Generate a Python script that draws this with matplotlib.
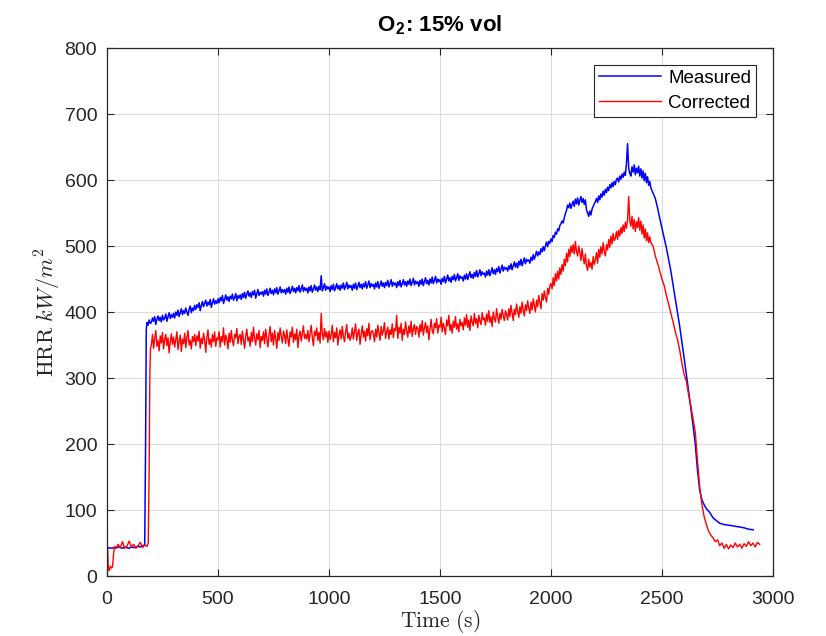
import numpy as np
import matplotlib
matplotlib.use("Agg")
import matplotlib.pyplot as plt

# ---- data (HRR in kW/m^2, time in s) ----
# pre-ignition part
meas_pre_t = [0, 10, 20, 30, 40, 50, 60, 70, 80, 90, 100, 110, 120, 130, 140, 150, 160, 170, 174, 177, 180, 185, 190, 195]
meas_pre_v = [42, 43, 42, 43, 42, 44, 43, 42, 44, 43, 42, 44, 43, 44, 45, 44, 46, 47, 200, 372, 384, 380, 388, 383]

corr_pre_t = [0, 1, 3, 6, 10, 15, 20, 25, 30, 35, 40, 50, 60, 70, 80, 90, 100, 110, 120, 130, 140,
              150, 160, 170, 180, 186, 190, 193, 196]
corr_pre_v = [0, 40, 42, 12, 8, 15, 12, 14, 35, 45, 42, 48, 43, 52, 42, 45, 53, 44, 48, 42, 46,
              51, 43, 47, 45, 50, 160, 300, 345]

# burning part, one value every 5 s starting at 200 s (one row = 100 s)
meas_main = [
    384, 391, 386, 393, 381, 389, 394, 387, 392, 385, 395, 388, 391, 397, 386, 393, 399, 390, 396, 392,
    398, 391, 400, 395, 403, 393, 399, 405, 396, 402, 398, 406, 400, 395, 404, 409, 399, 406, 402, 410,
    404, 411, 407, 414, 402, 410, 416, 408, 413, 418, 409, 415, 411, 419, 407, 414, 420, 412, 417, 413,
    420, 414, 422, 417, 425, 413, 419, 426, 418, 423, 416, 424, 420, 427, 418, 422, 428, 417, 425, 421,
    426, 419, 428, 422, 430, 421, 427, 432, 424, 429, 422, 431, 426, 433, 421, 428, 434, 425, 430, 427,
    431, 424, 433, 427, 435, 425, 430, 436, 428, 433, 426, 435, 429, 437, 427, 432, 438, 429, 434, 430,
    434, 427, 436, 430, 438, 428, 433, 439, 431, 436, 429, 437, 432, 440, 430, 435, 441, 431, 437, 433,
    436, 429, 438, 432, 440, 430, 435, 441, 433, 438, 431, 439, 434, 455, 432, 437, 443, 433, 439, 435,
    438, 431, 440, 434, 442, 432, 437, 443, 435, 440, 433, 441, 436, 444, 434, 439, 445, 435, 441, 437,
    440, 433, 442, 436, 444, 434, 439, 445, 437, 442, 435, 443, 438, 446, 436, 441, 447, 437, 443, 439,
    442, 435, 444, 438, 446, 436, 441, 447, 439, 444, 437, 445, 440, 448, 438, 443, 449, 439, 445, 441,
    444, 437, 446, 440, 448, 438, 443, 449, 441, 446, 439, 447, 442, 450, 440, 445, 451, 441, 447, 443,
    446, 439, 448, 442, 450, 440, 446, 452, 443, 448, 441, 450, 444, 453, 443, 448, 454, 444, 450, 446,
    449, 442, 451, 446, 454, 444, 450, 456, 447, 452, 445, 454, 449, 457, 447, 452, 458, 448, 455, 451,
    453, 447, 456, 450, 458, 449, 455, 461, 452, 457, 451, 460, 454, 463, 453, 458, 464, 455, 461, 457,
    459, 453, 462, 456, 464, 455, 461, 467, 458, 464, 457, 466, 461, 469, 459, 465, 471, 462, 468, 465,
    467, 462, 470, 465, 473, 464, 470, 476, 468, 474, 467, 477, 471, 480, 470, 476, 482, 473, 480, 477,
    479, 474, 483, 478, 487, 480, 486, 492, 485, 491, 487, 496, 491, 499, 493, 500, 506, 499, 507, 504,
    511, 507, 516, 513, 521, 518, 526, 523, 531, 534, 538, 535, 543, 549, 554, 562, 558, 565, 557, 563,
    568, 560, 571, 564, 573, 562, 569, 575, 566, 572, 563, 570, 555, 550, 545, 553, 547, 556, 560, 564,
    567, 572, 566, 576, 570, 579, 574, 583, 577, 586, 581, 589, 584, 593, 588, 596, 590, 598, 593, 601,
    603, 597, 606, 601, 609, 604, 612, 607, 625, 655, 618, 610, 606, 620, 612, 623, 608, 618, 611, 621,
    606, 617, 603, 614, 599, 610, 596, 605, 592, 598,
]
corr_main = [
    350, 366, 345, 360, 372, 348, 357, 341, 364, 353, 369, 344, 358, 366, 349, 361, 338, 355, 367, 351,
    362, 347, 358, 370, 343, 356, 365, 340, 359, 352, 368, 346, 361, 372, 350, 357, 344, 363, 355, 366,
    349, 364, 356, 371, 345, 360, 352, 368, 358, 339, 362, 373, 351, 359, 347, 366, 355, 370, 348, 361,
    358, 370, 347, 363, 355, 376, 350, 365, 359, 344, 368, 354, 372, 357, 349, 366, 361, 375, 352, 363,
    366, 351, 371, 358, 345, 364, 374, 356, 362, 348, 369, 355, 377, 360, 350, 367, 358, 372, 346, 363,
    357, 370, 352, 374, 361, 347, 366, 378, 355, 368, 350, 372, 360, 345, 369, 357, 376, 363, 353, 371,
    365, 352, 373, 359, 348, 370, 362, 377, 354, 367, 358, 374, 346, 364, 371, 356, 368, 379, 360, 366,
    359, 372, 355, 368, 380, 361, 349, 371, 364, 376, 357, 369, 353, 398, 367, 358, 375, 362, 370, 354,
    371, 358, 366, 380, 355, 369, 361, 376, 350, 365, 373, 359, 378, 363, 355, 370, 381, 360, 368, 357,
    363, 376, 359, 370, 382, 357, 368, 374, 351, 366, 379, 362, 371, 356, 375, 364, 383, 358, 369, 372,
    367, 355, 374, 362, 380, 369, 357, 378, 365, 372, 384, 360, 370, 377, 359, 373, 366, 382, 361, 375,
    372, 395, 360, 377, 368, 383, 357, 374, 366, 385, 371, 362, 379, 368, 386, 363, 375, 381, 366, 378,
    375, 362, 381, 370, 387, 365, 376, 384, 369, 379, 358, 374, 389, 372, 367, 383, 376, 390, 368, 380,
    377, 392, 370, 383, 375, 366, 388, 379, 395, 372, 381, 368, 386, 377, 393, 374, 382, 370, 389, 379,
    384, 373, 391, 380, 396, 377, 388, 372, 394, 385, 379, 398, 383, 390, 376, 395, 386, 381, 399, 388,
    391, 380, 397, 386, 402, 384, 393, 378, 400, 390, 385, 405, 392, 383, 398, 389, 404, 394, 387, 402,
    396, 388, 405, 393, 410, 399, 387, 404, 396, 412, 401, 392, 408, 398, 415, 403, 394, 411, 402, 417,
    406, 398, 415, 403, 420, 410, 400, 418, 408, 425, 414, 405, 428, 418, 432, 422, 415, 436, 427, 440,
    443, 435, 452, 440, 458, 447, 462, 450, 467, 457, 472, 462, 480, 470, 489, 476, 495, 484, 500, 490,
    502, 488, 507, 492, 485, 500, 490, 478, 496, 482, 473, 488, 470, 463, 480, 468, 475, 465, 484, 472,
    479, 490, 474, 495, 483, 499, 488, 505, 492, 485, 502, 494, 510, 498, 515, 503, 519, 508, 512, 522,
    510, 524, 515, 528, 519, 532, 522, 536, 527, 540, 575, 538, 530, 545, 526, 540, 522, 537, 528, 543,
    524, 538, 518, 532, 512, 526, 508, 520, 505, 514,
]

# decay and tail
meas_tail_t = [2450, 2460, 2470, 2480, 2490, 2500, 2520, 2540, 2560, 2580, 2600, 2620, 2640, 2650,
               2660, 2670, 2680, 2690, 2700, 2716, 2730, 2745, 2760, 2780, 2800, 2820, 2836, 2855,
               2870, 2890, 2911]
meas_tail_v = [588, 580, 572, 558, 542, 527, 497, 462, 420, 378, 330, 280, 228, 200,
               160, 130, 115, 108, 102, 96, 88, 84, 80, 78, 77, 76, 75, 74,
               73, 71, 70]

corr_tail_t = [2450, 2460, 2470, 2480, 2490, 2500, 2510, 2520, 2530, 2540, 2550, 2560, 2570, 2580,
               2590, 2600, 2610, 2620, 2630, 2640, 2650, 2660, 2670, 2680, 2690, 2700, 2710, 2720,
               2730, 2740, 2750, 2760, 2770, 2780, 2790, 2800, 2810, 2820, 2830, 2840, 2850, 2860,
               2870, 2880, 2890, 2900, 2910, 2920, 2930, 2940]
corr_tail_v = [505, 500, 485, 474, 462, 450, 440, 425, 412, 398, 385, 370, 358, 342,
               322, 305, 295, 275, 258, 238, 218, 175, 135, 108, 90, 78, 68, 62,
               58, 52, 55, 46, 50, 42, 48, 41, 47, 43, 50, 44, 48, 42,
               49, 45, 52, 46, 50, 44, 51, 48]

# ---- assemble series ----
meas_t = np.concatenate([meas_pre_t, 200 + 5 * np.arange(len(meas_main)), meas_tail_t])
meas_v = np.concatenate([meas_pre_v, meas_main, meas_tail_v])
corr_t = np.concatenate([corr_pre_t, 200 + 5 * np.arange(len(corr_main)), corr_tail_t])
corr_v = np.concatenate([corr_pre_v, corr_main, corr_tail_v])

plt.rcParams['font.family'] = ['Liberation Sans', 'DejaVu Sans']
plt.rcParams['mathtext.fontset'] = 'cm'

fig = plt.figure(figsize=(8.26, 6.36), dpi=100)
ax = fig.add_axes([0.1295, 0.0943, 0.8063, 0.8302])

ax.plot(meas_t, meas_v, color='#0000ff', lw=1.1, label='Measured')
ax.plot(corr_t, corr_v, color='#ff0000', lw=1.0, label='Corrected')

ax.set_xlim(0, 3000)
ax.set_ylim(0, 800)
ax.set_xticks(np.arange(0, 3001, 500))
ax.set_yticks(np.arange(0, 801, 100))
ax.grid(True, color='#dcdcdc', lw=0.8)
ax.set_axisbelow(True)
ax.tick_params(direction='in', top=True, right=True, labelsize=14, colors='#262626',
               length=5, width=0.8)
ax.tick_params(axis='x', pad=10.5)
ax.tick_params(axis='y', pad=7)
for s in ax.spines.values():
    s.set_color('#262626')
    s.set_linewidth(0.9)

ax.set_xlabel(r'$\mathrm{Time\ (s)}$', fontsize=15.5, color='#262626', labelpad=0)
ax.set_ylabel(r'$\mathrm{HRR}\ kW/m^2$', fontsize=16, color='#262626', labelpad=1)
ax.set_title(r'O$_\mathregular{2}$: 15% vol', fontsize=16, fontweight='bold', color='#000000', pad=12)

leg = ax.legend(loc='upper right', fontsize=13.5, fancybox=False, framealpha=1,
                edgecolor='#262626', borderpad=0.25, handlelength=3.3, handletextpad=0.4,
                labelspacing=0.43, borderaxespad=0.9)
leg.get_frame().set_linewidth(0.8)

fig.savefig('out.png', dpi=100)
